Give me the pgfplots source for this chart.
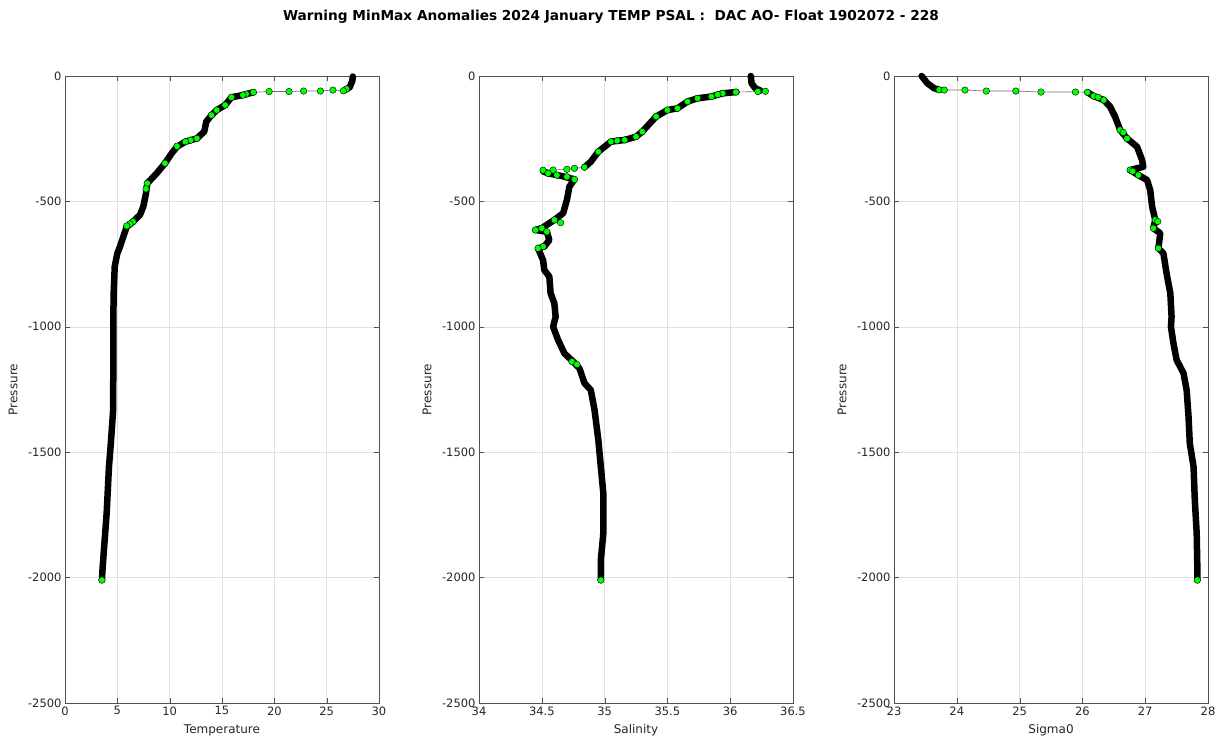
\documentclass[border=0pt]{standalone}
\usepackage{fontspec}
\setmainfont{DejaVu Sans}
\usepackage{pgfplots}
\usepackage{pgfplotstable}
\pgfplotsset{compat=1.18}
\definecolor{mgreen}{RGB}{0,255,0}
\definecolor{axgray}{RGB}{38,38,38}

% ---------- Temperature ----------
\pgfplotstableread{
x y
27.5 -2
27.45 -20
27.2 -45
26.7 -57
nan nan
18.0 -65
17.0 -76
15.9 -85
15.3 -116
14.5 -136
14.0 -156
13.5 -182
13.3 -222
12.6 -249
11.5 -262
10.7 -282
10.2 -308
9.55 -348
8.76 -388
7.86 -428
7.74 -468
7.48 -521
7.16 -554
6.5 -581
5.9 -601
5.57 -641
5.25 -681
5.0 -707
4.75 -760
4.65 -866
4.62 -960
4.62 -1100
4.6 -1332
4.38 -1464
4.2 -1558
3.98 -1744
3.6 -1957
3.53 -2010
}\tband
\pgfplotstableread{
x y
26.9 -52
26.6 -59
25.6 -56
24.4 -60
22.8 -60
21.4 -62
19.5 -62
18.0 -65
17.3 -72
17.0 -76
15.9 -85
15.3 -116
14.5 -136
14.0 -156
12.6 -249
12.0 -256
11.5 -262
10.7 -280
9.55 -348
7.86 -428
7.74 -450
6.5 -581
6.2 -590
5.9 -598
3.53 -2010
}\tpts
\pgfplotstableread{
x y
26.7 -57
26.6 -59
25.6 -56
24.4 -60
22.8 -60
21.4 -62
19.5 -62
18.0 -65
17.0 -76
}\tline

% ---------- Salinity ----------
\pgfplotstableread{
x y
36.164 0
36.17 -29
36.20 -49
36.24 -58
nan nan
36.05 -64
35.94 -69
35.85 -82
35.74 -89
35.66 -102
35.58 -129
35.50 -136
35.41 -162
35.36 -189
35.30 -222
35.25 -242
35.16 -255
35.05 -262
35.0 -282
34.95 -302
34.89 -342
34.84 -364
nan nan
34.51 -380
34.55 -388
34.66 -399
34.76 -412
34.72 -441
34.70 -494
34.67 -547
34.60 -574
34.56 -587
34.50 -607
34.45 -614
34.54 -621
34.56 -654
34.52 -680
34.47 -687
34.51 -734
34.52 -774
34.56 -800
34.57 -866
34.60 -907
34.61 -960
34.59 -1000
34.63 -1053
34.68 -1106
34.75 -1139
34.80 -1166
34.84 -1225
34.89 -1252
34.92 -1332
34.95 -1451
34.97 -1558
34.99 -1664
34.99 -1823
34.97 -1930
34.97 -2010
}\sband
\pgfplotstableread{
x y
36.28 -61
36.22 -62
36.045 -64
35.94 -69
35.90 -74
35.85 -82
35.74 -89
35.66 -102
35.58 -129
35.50 -136
35.41 -162
35.30 -222
35.25 -242
35.16 -255
35.10 -258
35.05 -262
34.95 -302
34.84 -364
34.76 -368
34.70 -372
34.59 -375
34.51 -376
34.55 -388
34.62 -395
34.70 -402
34.76 -412
34.60 -574
34.65 -585
34.50 -607
34.45 -614
34.54 -621
34.51 -680
34.47 -687
34.74 -1139
34.78 -1150
34.97 -2010
}\spts
\pgfplotstableread{
x y
36.20 -49
36.28 -61
36.22 -62
36.045 -64
35.94 -69
nan nan
34.84 -364
34.76 -368
34.70 -372
34.59 -375
34.51 -376
34.55 -388
}\sline

% ---------- Sigma0 ----------
\pgfplotstableread{
x y
23.44 0
23.53 -29
23.64 -49
23.72 -55
nan nan
26.08 -65
26.18 -80
26.34 -96
26.44 -122
26.52 -162
26.60 -215
26.71 -249
26.87 -282
26.95 -335
26.97 -362
26.76 -375
26.89 -395
27.03 -415
27.08 -455
27.11 -521
27.16 -574
27.13 -607
27.24 -627
27.21 -687
27.29 -707
27.34 -787
27.40 -866
27.42 -960
27.41 -1000
27.45 -1066
27.50 -1132
27.61 -1185
27.66 -1252
27.69 -1358
27.71 -1465
27.77 -1558
27.79 -1691
27.82 -1823
27.83 -1957
27.83 -2010
}\gband
\pgfplotstableread{
x y
23.72 -55
23.80 -56
24.13 -56
24.47 -60
24.94 -60
25.34 -64
25.89 -64
26.08 -65
26.18 -80
26.25 -85
26.34 -96
26.60 -215
26.65 -225
26.71 -249
26.76 -375
26.80 -380
26.89 -395
27.16 -574
27.20 -580
27.13 -607
27.21 -687
27.83 -2010
}\gpts
\pgfplotstableread{
x y
23.64 -49
23.80 -56
24.13 -56
24.47 -60
24.94 -60
25.34 -64
25.89 -64
26.08 -65
}\gline

\pgfplotsset{
  prof/.style={
    scale only axis, width=314pt, height=627pt,
    ymin=-2500, ymax=0, ytick={-2500,-2000,...,0},
    axis line style={draw=axgray!80},
    tick style={axgray!80}, tick align=inside, major tick length=5pt,
    grid=major, grid style={black!12, line width=0.5pt},
    tick label style={font=\fontsize{11.5}{13}\selectfont, text=axgray},
    label style={font=\fontsize{12}{14}\selectfont, text=axgray},
    /pgf/number format/assume math mode=true,
    /pgf/number format/1000 sep={},
    scaled ticks=false,
    clip=false, unbounded coords=jump,
    ylabel={Pressure},
    ylabel style={at={(axis description cs:0,0.5)}, anchor=south, yshift=44pt},
    xlabel style={at={(axis description cs:0.5,0)}, anchor=north, yshift=-18pt},
  },
  thinl/.style={black!55, line width=0.6pt},
  band/.style={black, line width=6.5pt, line cap=round, line join=round},
  gmk/.style={only marks, mark=*, mark size=3.3pt, mark options={fill=mgreen, draw=black, line width=0.4pt}},
}

\begin{document}
\begin{tikzpicture}
\path[use as bounding box] (0pt,0pt) rectangle (1227pt,738pt);
\node[font=\bfseries\fontsize{13.7}{16}\selectfont] at (611pt,721pt)
  {Warning MinMax Anomalies 2024 January TEMP PSAL :\ \ DAC AO- Float 1902072 - 228};

\begin{axis}[prof, at={(65pt,35pt)}, anchor=south west,
  xmin=0, xmax=30, xtick={0,5,...,30}, xlabel={Temperature}]
\addplot[thinl] table {\tline};
\addplot[band] table {\tband};
\addplot[gmk] table {\tpts};
\end{axis}

\begin{axis}[prof, at={(479pt,35pt)}, anchor=south west,
  xmin=34, xmax=36.5, xtick={34,34.5,...,36.5}, xlabel={Salinity}]
\addplot[thinl] table {\sline};
\addplot[band] table {\sband};
\addplot[gmk] table {\spts};
\end{axis}

\begin{axis}[prof, at={(894pt,35pt)}, anchor=south west,
  xmin=23, xmax=28, xtick={23,...,28}, xlabel={Sigma0}]
\addplot[thinl] table {\gline};
\addplot[band] table {\gband};
\addplot[gmk] table {\gpts};
\end{axis}
\end{tikzpicture}
\end{document}
